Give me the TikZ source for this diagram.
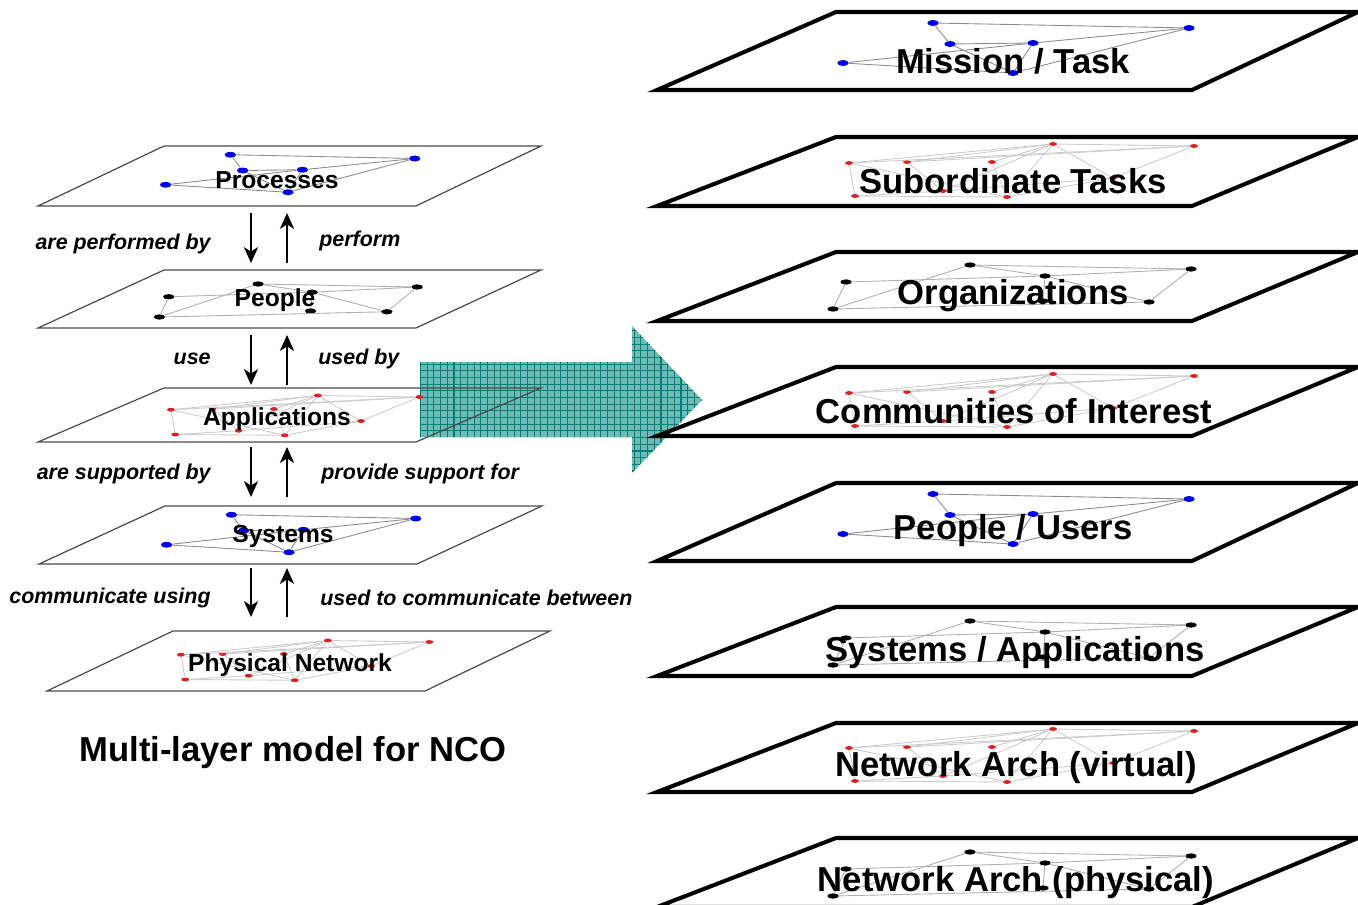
\documentclass[tikz,border=0pt]{standalone}
\usepackage{fontspec}
\setmainfont{Liberation Sans}
\usetikzlibrary{arrows.meta,shapes.geometric,patterns.meta}

\definecolor{netblue}{RGB}{0,0,230}
\definecolor{netred}{RGB}{215,35,35}
\definecolor{netgray}{RGB}{175,175,175}
\definecolor{arrowfill}{RGB}{110,186,181}
\definecolor{arrowgrid}{RGB}{0,125,121}

\tikzset{
	bluedot/.style={ellipse,fill=netblue,inner sep=0pt,minimum width=6.5pt,minimum height=3.4pt},
	blackdot/.style={ellipse,fill=black,inner sep=0pt,minimum width=6.5pt,minimum height=3pt},
	reddot/.style={ellipse,fill=netred,inner sep=0pt,minimum width=4.5pt,minimum height=2.2pt},
	netline/.style={netgray,line width=0.5pt},
	bigplane/.style={line width=2.3pt,line join=miter},
	smallplane/.style={black!70,line width=0.7pt},
	biglabel/.style={inner sep=0pt,yshift=-1.7pt,font=\bfseries\fontsize{19.7}{22}\selectfont},
	smalllabel/.style={inner sep=0pt,yshift=-1.1pt,font=\bfseries\fontsize{14}{16}\selectfont},
	rellabel/.style={inner sep=0pt,yshift=-1.1pt,font=\bfseries\itshape\fontsize{12.2}{14}\selectfont},
	relarrow/.style={-{Stealth[length=9pt,width=8pt,inset=2.5pt]},line width=1.4pt},
	gridlines/.style={pattern={Lines[angle=#1,distance=3.8pt,line width=0.6pt]},pattern color=arrowgrid},
	bluenet/.pic={
		\node[bluedot] (-a) at (-80,-35) {};
		\node[bluedot] (-b) at (176,-30) {};
		\node[bluedot] (-c) at (-63,-14) {};
		\node[bluedot] (-d) at (20,-15) {};
		\node[bluedot] (-e) at (-170,5) {};
		\node[bluedot] (-f) at (0,15) {};
		\foreach \u/\v in {a/b,a/c,c/f,c/d,e/d,e/f,b/d,b/f,d/f}
			\draw[netline,black!45] (-\u) -- (-\v);
	},
	blacknet/.pic={
		\node[blackdot] (-a) at (-43,-28) {};
		\node[blackdot] (-b) at (178,-24) {};
		\node[blackdot] (-c) at (32,-17) {};
		\node[blackdot] (-d) at (-167,-11) {};
		\node[blackdot] (-e) at (-180,16) {};
		\node[blackdot] (-f) at (136,9) {};
		\node[blackdot] (-g) at (30,8) {};
		\foreach \u/\v in {a/b,a/c,c/b,d/c,d/e,e/a,e/f,b/f,c/f,c/g}
			\draw[netline] (-\u) -- (-\v);
	},
	rednet/.pic={
		\node[reddot] (-a) at (40,-34) {};
		\node[reddot] (-b) at (181,-32) {};
		\node[reddot] (-c) at (-164,-15) {};
		\node[reddot] (-d) at (-106,-16) {};
		\node[reddot] (-e) at (-21,-16) {};
		\node[reddot] (-f) at (-158,18) {};
		\node[reddot] (-g) at (-70,13) {};
		\node[reddot] (-h) at (-6,19) {};
		\node[reddot] (-i) at (100,0) {};
		\foreach \u/\v in {a/b,a/c,a/d,a/e,a/g,a/h,a/i,b/i,b/c,c/f,c/h,d/g,e/h,f/h,f/g,g/i,h/i,d/b}
			\draw[netline,black!20] (-\u) -- (-\v);
	}
}

\begin{document}
\begin{tikzpicture}[x=0.02cm,y=-0.02cm]
	\useasboundingbox (0,0) rectangle (1358,905);

	\path[fill=arrowfill,postaction={gridlines=0},postaction={gridlines=90}]
		(420,362) -- (632,362) -- (632,326) -- (702,400) -- (632,473) -- (632,437) -- (420,437) -- cycle;

	\foreach \t/\b/\l in {146/206/38,270/328/38,388/442/38,506/564/39,631/691/47}
		\draw[smallplane] (\l,\b) -- ({\l+126},\t) -- ({\l+503},\t) -- ({\l+378},\b) -- cycle;

	\foreach \t/\h in {12/78,137/69,252/69,367/69,483/78,607/69,723/69,838/69}
		\draw[bigplane] (657,{\t+\h}) -- (836,\t) -- (1358,\t) -- (1192,{\t+\h}) -- cycle;

	\pic[xscale=0.72,yscale=0.75] (pro) at (288,181) {bluenet};
	\pic[xscale=0.72,yscale=0.75] (peo) at (289,305) {blacknet};
	\pic[xscale=0.72,yscale=0.75] (app) at (289,421) {rednet};
	\pic[xscale=0.72,yscale=0.75] (sys) at (289,541) {bluenet};
	\pic[xscale=0.72,yscale=0.75] (phy) at (299,666) {rednet};

	\pic (mis) at (1013,58) {bluenet};
	\pic (sub) at (1013,178) {rednet};
	\pic (org) at (1013,293) {blacknet};
	\pic (com) at (1013,408) {rednet};
	\pic (usr) at (1013,529) {bluenet};
	\pic (sap) at (1013,649) {blacknet};
	\pic (nav) at (1013,763) {rednet};
	\pic (nap) at (1013,880) {blacknet};

	\node[smalllabel] (processes) at (277,178) {Processes};
	\node[smalllabel] (people) at (275,298) {People};
	\node[smalllabel] (applications) at (277,417) {Applications};
	\node[smalllabel] (systems) at (283,535) {Systems};
	\node[smalllabel] (physnet) at (290,663) {Physical Network};

	\foreach \i/\t/\b in {1/213/263,2/335/385,3/447/497,4/568/617}{
		\coordinate (dtop\i) at (251,\t);
		\coordinate (dbot\i) at (251,\b);
		\coordinate (utop\i) at (287,\t);
		\coordinate (ubot\i) at (287,\b);
		\draw[relarrow] (dtop\i) -- (dbot\i);
		\draw[relarrow] (ubot\i) -- (utop\i);
	}

	\node[rellabel,anchor=east] (areperf) at (211,242) {are performed by};
	\node[rellabel,anchor=west] (perform) at (319,239) {perform};
	\node[rellabel,anchor=east] (use) at (211,357) {use};
	\node[rellabel,anchor=west] (usedby) at (318,357) {used by};
	\node[rellabel,anchor=east] (aresupp) at (211,472) {are supported by};
	\node[rellabel,anchor=west] (provide) at (321,472) {provide support for};
	\node[rellabel,anchor=east] (commusing) at (211,596) {communicate using};
	\node[rellabel,anchor=west] (commbetween) at (320,596) {used to communicate between};

	\node[biglabel] (title) at (293,750) {Multi-layer model for NCO};

	\node[biglabel] (mission) at (1013,58) {Mission / Task};
	\node[biglabel] (subtasks) at (1013,178) {Subordinate Tasks};
	\node[biglabel] (orgs) at (1013,293) {Organizations};
	\node[biglabel] (coi) at (1014,408) {Communities of Interest};
	\node[biglabel] (users) at (1013,528) {People / Users};
	\node[biglabel] (sysapps) at (1015,650) {Systems / Applications};
	\node[biglabel] (netvirt) at (1016,765) {Network Arch (virtual)};
	\node[biglabel] (netphys) at (1016,880) {Network Arch (physical)};
\end{tikzpicture}
\end{document}
